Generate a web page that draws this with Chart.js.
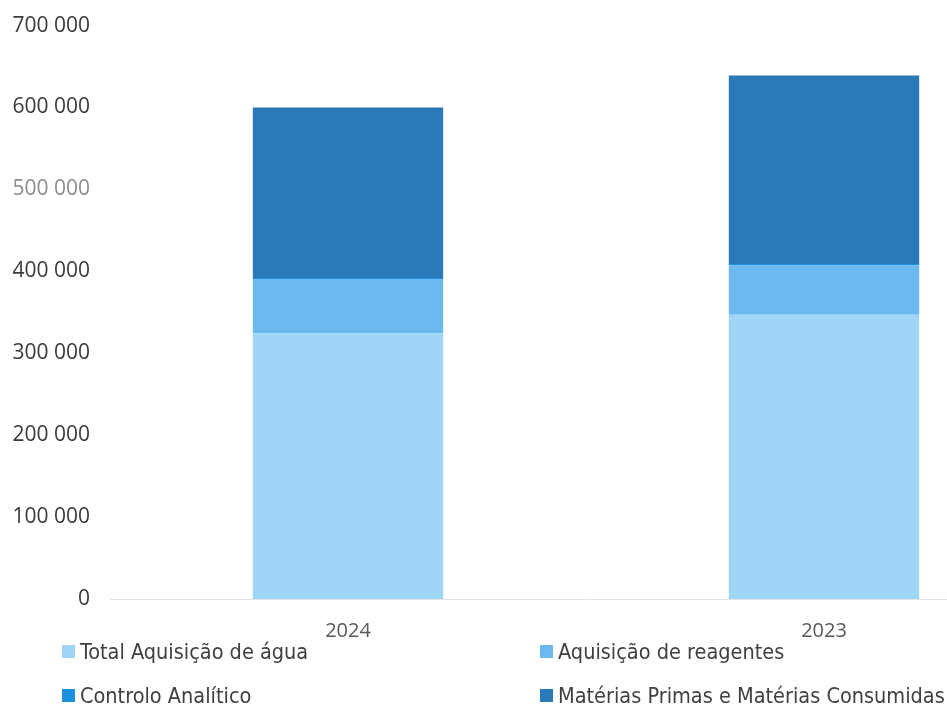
<!DOCTYPE html>
<html>
<head>
<meta charset="utf-8">
<script src="https://cdn.jsdelivr.net/npm/chart.js@4/dist/chart.umd.min.js"></script>
<style>
  html, body { margin: 0; padding: 0; background: #fff; overflow: hidden; }
  #wrap { position: relative; width: 947px; height: 709px; overflow: hidden; }
  #box { position: absolute; left: 0; top: 1px; width: 1064px; height: 711px; }
  #legend { position: absolute; left: 0; top: 0; width: 947px; height: 709px; pointer-events: none;
            font-family: "Liberation Sans Narrow", "DejaVu Sans Condensed", sans-serif; font-size: 21.5px; color: #404040; }
  .item { position: absolute; display: flex; align-items: center; white-space: nowrap; }
  .sw { width: 13px; height: 13px; margin-right: 5px; }
</style>
</head>
<body>
<div id="wrap">
  <div id="box"><canvas id="myChart"></canvas></div>
  <div id="legend"></div>
</div>
<script>
const years = ['2024', '2023']
const seriesNames = ['Total Aquisição de água', 'Aquisição de reagentes', 'Controlo Analítico', 'Matérias Primas e Matérias Consumidas']
const aguaValues = [324000, 347000]
const reagentesValues = [66500, 60500]
const controloValues = [1500, 1500]
const materiasValues = [208000, 230000]
const yTicks = [0, 100000, 200000, 300000, 400000, 500000, 600000, 700000]
const colors = ['#9fd5f7', '#6cb9f0', '#1b8fe0', '#2a79b8']

function fmt(v) {
    return String(v).replace(/\B(?=(\d{3})+(?!\d))/g, ' ')
}

const allValues = [aguaValues, reagentesValues, controloValues, materiasValues]

var ctx = document.getElementById('myChart').getContext('2d');
const myChart = new Chart(ctx, {
    type: 'bar',
    data: {
        labels: years,
        datasets: seriesNames.map((name, i) => ({
            label: name,
            data: allValues[i],
            backgroundColor: colors[i],
            borderWidth: 0,
            categoryPercentage: 1,
            barPercentage: 0.4
        }))
    },
    options: {
        responsive: true,
        maintainAspectRatio: false,
        animation: false,
        layout: { padding: { left: 0, right: 2, top: 0, bottom: 57 } },
        plugins: {
            legend: { display: false },
            tooltip: { enabled: false }
        },
        scales: {
            x: {
                stacked: true,
                grid: { display: false },
                border: { display: true, color: '#e2e2e2', width: 1 },
                ticks: {
                    padding: 12,
                    color: '#595959',
                    font: { family: 'Open Sans', size: 20 }
                }
            },
            y: {
                stacked: true,
                min: 0,
                max: 700000,
                grid: { display: false },
                border: { display: false },
                afterBuildTicks: axis => { axis.ticks = yTicks.map(v => ({ value: v })) },
                afterFit: axis => { axis.width = 110 },
                ticks: {
                    padding: 12,
                    color: c => c.tick && c.tick.value === 500000 ? '#8c8c8c' : '#3a3a3a',
                    font: { family: 'Open Sans', size: 21 },
                    callback: v => fmt(v)
                }
            }
        }
    }
})

// legend in two columns like the original
const legendPos = [[62, 651], [540, 651], [62, 695], [540, 695]]
const legendBox = document.getElementById('legend')
myChart.data.datasets.forEach((ds, i) => {
    const item = document.createElement('div')
    item.className = 'item'
    item.style.left = legendPos[i][0] + 'px'
    item.style.top = (legendPos[i][1] - 13) + 'px'
    item.style.height = '26px'
    const sw = document.createElement('span')
    sw.className = 'sw'
    sw.style.background = ds.backgroundColor
    const txt = document.createElement('span')
    txt.textContent = ds.label
    item.appendChild(sw)
    item.appendChild(txt)
    legendBox.appendChild(item)
})
</script>
</body>
</html>
